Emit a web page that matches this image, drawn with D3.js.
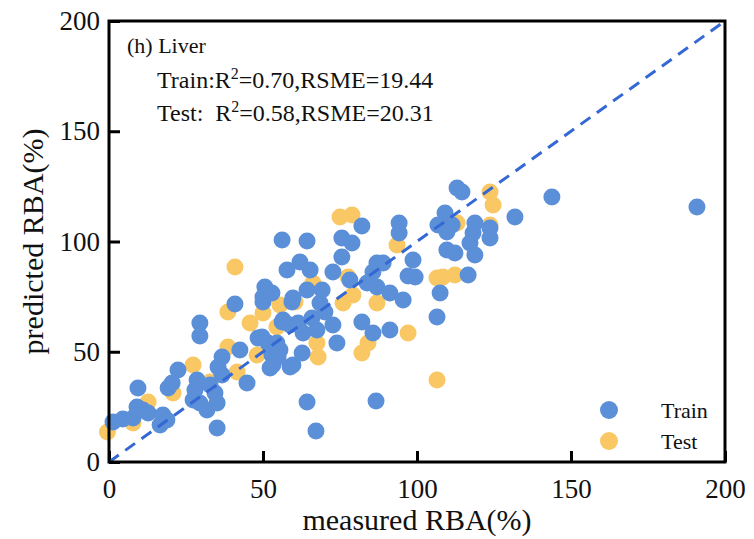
<!DOCTYPE html>
<html>
<head>
<meta charset="utf-8">
<script src="https://cdn.jsdelivr.net/npm/d3@7"></script>
<style>
  body { margin: 0; background: #fff; }
  svg { display: block; font-family: "Liberation Serif", "Times New Roman", serif; }
</style>
</head>
<body>
<div id="chart"></div>
<script>
// measured vs predicted RBA (%)
var trainMeasured = [1.3, 4.5, 7.8, 9.1, 9.4, 11.0, 12.7, 16.6, 17.5, 18.8, 19.2, 20.5, 22.4, 27.3, 27.9, 28.6, 29.5, 31.8, 32.8, 34.4,
  35.1, 35.1, 35.4, 36.7, 36.7, 42.5, 44.8, 29.5, 29.5, 40.9, 48.4, 51.6, 52.9, 53.2, 55.5, 56.2, 58.8, 58.8, 50.0, 59.4,
  56.2, 64.3, 75.6, 78.9, 75.6, 82.1, 94.2, 94.2, 62.0, 57.8, 65.3, 72.7, 78.2, 85.7, 89.0, 98.7, 99.4, 50.6, 50.0, 52.9,
  59.7, 64.3, 69.2, 68.5, 83.8, 87.0, 91.2, 95.5, 106.5, 56.5, 61.4, 65.9, 70.1, 63.0, 67.5, 72.7, 49.7, 54.5, 54.9, 52.3,
  59.7, 62.7, 74.0, 82.1, 85.7, 91.2,
  113.0, 114.6, 143.8, 131.8, 109.1, 106.8, 109.7, 111.4, 118.8, 118.2, 123.7, 123.7, 117.2, 118.8, 109.7, 112.3, 97.1, 116.6,
  107.5, 190.9, 64.3, 67.2, 86.7, 87.0]
var trainPredicted = [18.1, 19.5, 20.0, 24.9, 33.6, 23.6, 22.2, 16.8, 21.3, 19.0, 33.6, 35.8, 41.7, 28.1, 32.7, 37.2, 26.8, 23.6, 34.9, 31.3,
  26.8, 15.4, 43.1, 47.6, 39.5, 50.8, 35.8, 63.0, 57.1, 71.7, 56.2, 54.0, 48.5, 44.0, 50.8, 63.5, 43.1, 62.1, 72.6, 72.6,
  100.7, 100.2, 101.6, 99.3, 93.0, 107.0, 108.4, 103.9, 90.7, 87.1, 87.1, 86.2, 82.5, 86.2, 90.2, 91.6, 83.9, 79.4, 74.8, 76.6,
  74.4, 78.0, 78.0, 72.1, 81.2, 79.4, 76.6, 73.5, 65.8, 64.4, 63.0, 65.3, 68.0, 58.5, 59.9, 62.1, 56.7, 54.0, 47.6, 42.6,
  44.0, 49.4, 54.0, 63.5, 58.5, 59.9,
  124.3, 122.4, 120.2, 111.1, 112.9, 107.5, 104.3, 107.5, 108.4, 103.9, 106.1, 101.6, 99.3, 93.9, 96.1, 94.8, 84.4, 84.8,
  76.6, 115.6, 27.2, 14.1, 27.7, 90.2]

var testMeasured = [-0.5, 7.8, 12.7, 20.8, 27.3, 32.8, 38.6, 41.6, 38.6, 45.8, 50.0, 55.5, 48.1, 40.9, 75.0, 78.9, 93.5, 66.2, 77.6,
  79.2, 76.0, 87.0, 60.4, 54.5, 67.5, 67.9, 82.1, 84.1, 97.1, 106.5, 108.4, 112.3, 106.5, 123.7, 124.7, 113.0, 123.7]
var testPredicted = [13.6, 17.7, 27.2, 31.3, 44.0, 36.3, 68.0, 40.8, 52.2, 63.0, 67.6, 71.2, 48.5, 88.4, 111.1, 112.0, 98.4, 81.2, 83.9,
  75.7, 72.1, 72.1, 72.6, 61.2, 54.0, 47.6, 49.4, 54.0, 58.5, 83.4, 83.9, 84.8, 37.2, 122.4, 116.6, 108.4, 107.5]

var xTicks = [0, 50, 100, 150, 200]
var yTicks = [0, 50, 100, 150, 200]

var trainColor = "#5b8fd8",
  testColor = "#f9c764",
  lineColor = "#3468d4"

var W = 754,
  H = 539,
  margin = { top: 21, right: 29, bottom: 77, left: 109 },
  width = W - margin.left - margin.right,
  height = H - margin.top - margin.bottom

var svg = d3
  .select("#chart")
  .append("svg")
  .attr("width", W)
  .attr("height", H)

var g = svg.append("g").attr("transform", "translate(" + margin.left + "," + margin.top + ")")

var x = d3.scaleLinear().domain([0, 200]).range([0, width])
var y = d3.scaleLinear().domain([0, 200]).range([height, 0])

/* ------- AXES (ticks point inward) -------*/
var xAxis = g
  .append("g")
  .attr("transform", "translate(0," + height + ")")
  .call(d3.axisBottom(x).tickValues(xTicks).tickSizeInner(-11).tickSizeOuter(0).tickPadding(17))

var yAxis = g
  .append("g")
  .call(d3.axisLeft(y).tickValues(yTicks).tickSizeInner(-11).tickSizeOuter(0).tickPadding(9))

;[xAxis, yAxis].forEach(function(a) {
  a.select(".domain").remove()
  a.selectAll(".tick line").attr("stroke", "#000").attr("stroke-width", 3)
  a.selectAll(".tick text")
    .attr("fill", "#111")
    .style("font-family", '"Liberation Serif", "Times New Roman", serif')
    .style("font-size", "27px")
})

/* ------- POINTS -------*/
var testData = testMeasured.map(function(m, i) { return { m: m, p: testPredicted[i] } })
var trainData = trainMeasured.map(function(m, i) { return { m: m, p: trainPredicted[i] } })

g.append("g")
  .selectAll("circle")
  .data(testData)
  .enter()
  .append("circle")
  .attr("cx", function(d) { return x(d.m) })
  .attr("cy", function(d) { return y(d.p) })
  .attr("r", 8.5)
  .attr("fill", testColor)

g.append("g")
  .selectAll("circle")
  .data(trainData)
  .enter()
  .append("circle")
  .attr("cx", function(d) { return x(d.m) })
  .attr("cy", function(d) { return y(d.p) })
  .attr("r", 8.5)
  .attr("fill", trainColor)

// 1:1 line
g.append("line")
  .attr("x1", x(0))
  .attr("y1", y(0))
  .attr("x2", x(200))
  .attr("y2", y(200))
  .attr("stroke", lineColor)
  .attr("stroke-width", 3)
  .attr("stroke-dasharray", "12,8")

// frame
g.append("rect")
  .attr("width", width)
  .attr("height", height)
  .attr("fill", "none")
  .attr("stroke", "#000")
  .attr("stroke-width", 3)

/* ------- TEXT -------*/
g.append("text")
  .attr("x", width / 2)
  .attr("y", height + 68)
  .attr("text-anchor", "middle")
  .style("font-size", "30px")
  .attr("fill", "#111")
  .text("measured RBA(%)")

g.append("text")
  .attr("transform", "translate(" + (43 - margin.left) + "," + height / 2 + ") rotate(-90)")
  .attr("text-anchor", "middle")
  .style("font-size", "30px")
  .attr("fill", "#111")
  .text("predicted RBA(%)")

g.append("text")
  .attr("x", 18)
  .attr("y", 32)
  .style("font-size", "22px")
  .attr("fill", "#111")
  .text("(h) Liver")

var stats = [
  { label: "Train:", gap: "", r2: "0.70", rsme: "19.44", y: 67 },
  { label: "Test:", gap: "\u00a0\u00a0", r2: "0.58", rsme: "20.31", y: 100 }
]

stats.forEach(function(s) {
  var t = g.append("text")
    .attr("x", 48)
    .attr("y", s.y)
    .style("font-size", "24px")
    .attr("fill", "#111")
  t.append("tspan").text(s.label + s.gap + "R")
  t.append("tspan").attr("dy", -9).style("font-size", "16px").text("2")
  t.append("tspan").attr("dy", 9).text("=" + s.r2 + ",RSME=" + s.rsme)
})

/* ------- LEGEND -------*/
var legend = g.append("g").attr("transform", "translate(" + (width - 116) + "," + (height - 52) + ")")
var items = [
  { name: "Train", color: trainColor },
  { name: "Test", color: testColor }
]
items.forEach(function(it, i) {
  legend.append("circle")
    .attr("cx", 0)
    .attr("cy", i * 31)
    .attr("r", 9)
    .attr("fill", it.color)
  legend.append("text")
    .attr("x", 52)
    .attr("y", i * 31 + 8)
    .style("font-size", "22px")
    .attr("fill", "#111")
    .text(it.name)
})
</script>
</body>
</html>
